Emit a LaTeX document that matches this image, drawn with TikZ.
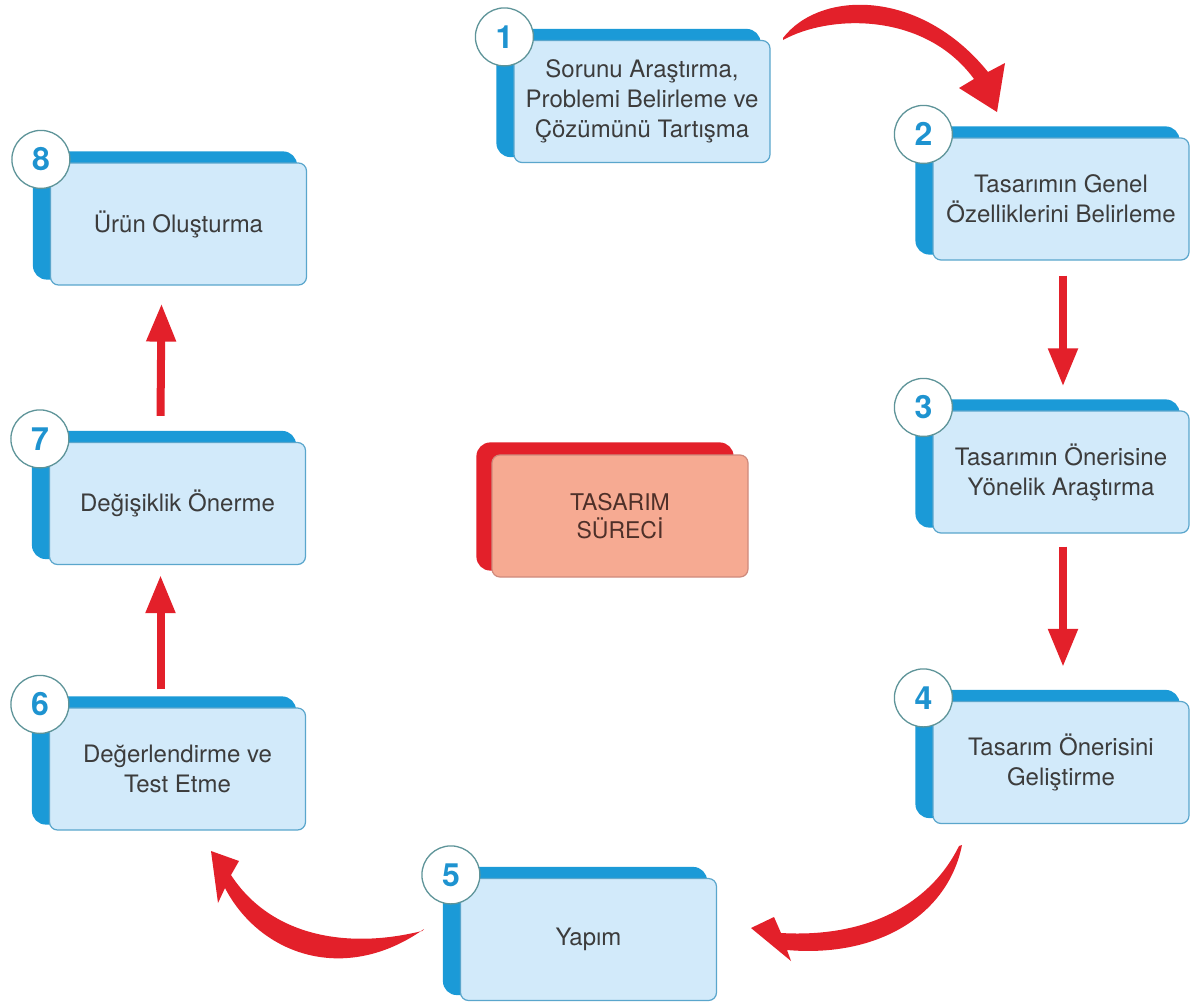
\documentclass[tikz,border=0pt]{standalone}
\usepackage{fontspec}
\setmainfont{TeX Gyre Heros}
\usetikzlibrary{arrows.meta,backgrounds}
\definecolor{stripblue}{HTML}{1B9AD7}
\definecolor{boxfill}{HTML}{D2EAFA}
\definecolor{boxline}{HTML}{5AA6CC}
\definecolor{circline}{HTML}{5E9499}
\definecolor{numblue}{HTML}{1E93D0}
\definecolor{txtgrey}{HTML}{3C3C3C}
\definecolor{arrred}{HTML}{E3202A}
\definecolor{centfill}{HTML}{F6AA92}
\definecolor{centline}{HTML}{CF8A7C}
\definecolor{centtxt}{HTML}{4E3029}
\tikzset{
  stepbox/.style={draw=boxline, line width=1.2pt, fill=boxfill, rounded corners=8pt,
    minimum width=256pt, minimum height=122pt, inner sep=0pt, align=center,
    text=txtgrey, font=\fontsize{24}{30}\selectfont},
  numcirc/.style={circle, draw=circline, line width=1.3pt, fill=white,
    minimum size=58pt, inner sep=0pt, text=numblue, font=\fontsize{32}{32}\selectfont\bfseries},
  centbox/.style={draw=centline, line width=1.2pt, fill=centfill, rounded corners=8pt,
    minimum width=256pt, minimum height=122pt, inner sep=0pt, align=center,
    text=centtxt, font=\fontsize{23}{28}\selectfont},
  sarrow/.style={draw=arrred, line width=8pt, -{Triangle[width=28pt,length=38pt]}},
  curvarrow/.style={fill=arrred},
}
\newcommand\stepat[5]{%
  \node[stepbox] (#1) at (#2,#3) {#5};
  \begin{scope}[on background layer]
    \fill[stripblue, rounded corners=14pt] ([shift={(-17pt,11pt)}]#1.north west) rectangle ([shift={(-10pt,6pt)}]#1.south east);
  \end{scope}
  \node[numcirc] (#1n) at ([shift={(-9pt,3pt)}]#1.north west) {#4};
}
\begin{document}
\begin{tikzpicture}[x=1pt,y=-1pt]
\useasboundingbox (0,0) rectangle (1194,1004);
\begin{scope}[on background layer]
  \fill[white] (0,0) rectangle (1194,1004);
\end{scope}

\stepat{s1}{642}{101.5}{1}{Sorunu Araştırma,\\Problemi Belirleme ve\\Çözümünü Tartışma}
\stepat{s2}{1061}{199}{2}{Tasarımın Genel\\Özelliklerini Belirleme}
\stepat{s3}{1061}{472}{3}{Tasarımın Önerisine\\Yönelik Araştırma}
\stepat{s4}{1061}{762.5}{4}{Tasarım Önerisini\\Geliştirme}
\stepat{s5}{588.5}{939.5}{5}{Yapım}
\stepat{s6}{177.5}{769}{6}{Değerlendirme ve\\Test Etme}
\stepat{s7}{177.5}{503.5}{7}{Değişiklik Önerme}
\stepat{s8}{178.5}{224}{8}{Ürün Oluşturma}

% center box
\node[centbox] (c) at (620,516) {TASARIM\\SÜRECİ};
\begin{scope}[on background layer]
  \fill[arrred, rounded corners=14pt] ([shift={(-15pt,12pt)}]c.north west) rectangle ([shift={(-15pt,7pt)}]c.south east);
\end{scope}

% straight arrows
\draw[sarrow] ([xshift=2pt,yshift=-15pt]s2.south) -- ([xshift=2pt,yshift=24pt]s3.north);
\draw[sarrow] ([xshift=2pt,yshift=-13pt]s3.south) -- ([xshift=2pt,yshift=34pt]s4.north);
\draw[sarrow] ([xshift=-17pt,yshift=18pt]s6.north) -- ([xshift=-17pt,yshift=-10pt]s7.south);
\draw[sarrow] ([xshift=-17pt,yshift=26pt]s7.north) -- ([xshift=-17pt,yshift=-18pt]s8.south);

% curved tapered arrows
\fill[curvarrow] (783,38) .. controls (820,-10) and (920,-12) .. (988,72)
  -- (1005,63) -- (997,112) -- (959,88) -- (974,79)
  .. controls (925,12) and (830,14) .. (783,40) -- cycle;
\fill[curvarrow] (962,845) .. controls (948,915) and (878,958) .. (787,950)
  -- (791,961) -- (751,928) -- (774,917) -- (781,933)
  .. controls (866,938) and (930,905) .. (959,846) -- cycle;
\fill[curvarrow] (424,929) .. controls (345,985) and (260,955) .. (225,888)
  -- (218,903) -- (211,851) -- (239,861) -- (231,875)
  .. controls (270,935) and (345,950) .. (422,931) -- cycle;
\end{tikzpicture}
\end{document}
